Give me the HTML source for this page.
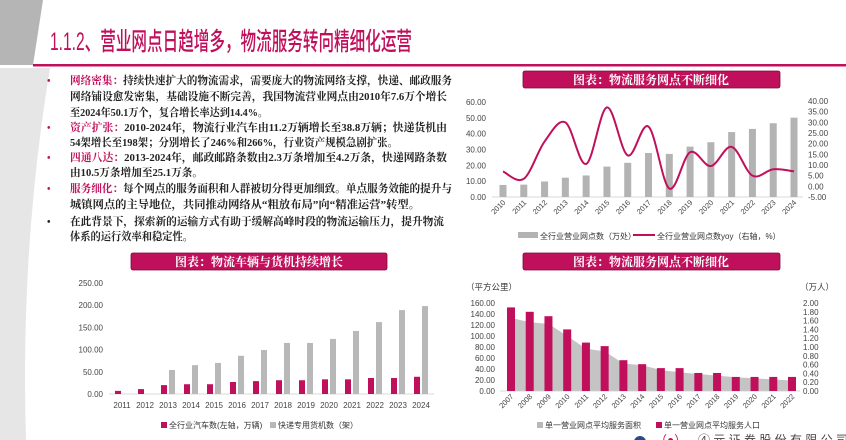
<!DOCTYPE html>
<html><head><meta charset="utf-8">
<style>
html,body{margin:0;padding:0;background:#fff;}
body{width:846px;height:440px;overflow:hidden;position:relative;font-family:"Liberation Sans","Noto Sans CJK SC",sans-serif;}
svg{position:absolute;left:0;top:0;}
</style></head>
<body>
<svg id="page" width="846" height="440" viewBox="0 0 846 440" xmlns="http://www.w3.org/2000/svg">
  <path d="M0,0 L43,0 L33,65 L0,65 Z" fill="#b5b5b5"/>
  <path d="M0,68 L50,68 Q20,250 26,440 L0,440 Z" fill="#e6e6e7"/>
  <text x="50" y="50" font-size="25" fill="#c0105c" textLength="362" lengthAdjust="spacingAndGlyphs" font-family="'Liberation Sans','Noto Sans CJK SC',sans-serif" font-weight="500">1.1.2、营业网点日趋增多，物流服务转向精细化运营</text>
  <rect x="33" y="64" width="813" height="2.5" fill="#c0105c"/>

  <g id="body-text" font-family="'Liberation Serif','Noto Serif CJK SC',serif" font-size="11" font-weight="700" fill="#222"></g>

  <g>
    <rect x="523" y="71" width="257" height="17" rx="2" fill="#c0105c" stroke="#7a0a3a" stroke-width="0.8"/>
    <text x="651" y="84" font-size="12" fill="#fff" text-anchor="middle" font-family="'Liberation Serif','Noto Serif CJK SC',serif" font-weight="700">图表：物流服务网点不断细化</text>
  </g>
  <g>
    <rect x="131" y="253" width="256" height="17" rx="2" fill="#c0105c" stroke="#7a0a3a" stroke-width="0.8"/>
    <text x="259" y="266" font-size="12" fill="#fff" text-anchor="middle" font-family="'Liberation Serif','Noto Serif CJK SC',serif" font-weight="700">图表：物流车辆与货机持续增长</text>
  </g>
  <g>
    <rect x="523" y="253" width="257" height="17" rx="2" fill="#c0105c" stroke="#7a0a3a" stroke-width="0.8"/>
    <text x="651" y="266" font-size="12" fill="#fff" text-anchor="middle" font-family="'Liberation Serif','Noto Serif CJK SC',serif" font-weight="700">图表：物流服务网点不断细化</text>
  </g>

  <g id="chart1"></g>
  <g id="chart2"></g>
  <g id="chart3"></g>

  <g>
    <circle cx="640" cy="442" r="6" fill="#2a4a8a"/>
    <text x="655" y="444" font-size="12" fill="#c0105c">（●）</text>
    <text x="698" y="444" font-size="12" fill="#444">④ 元 证 券 股 份 有 限 公 司</text>
  </g>
</svg>
<script>
const NS='http://www.w3.org/2000/svg';
function mk(parent,tag,attrs,txt){const e=document.createElementNS(NS,tag);for(const k in attrs)e.setAttribute(k,attrs[k]);if(txt!=null)e.textContent=txt;parent.appendChild(e);return e;}

const bodyLines=[
 {b:true,h:'网络密集：',t:'持续快速扩大的物流需求，需要庞大的物流网络支撑，快递、邮政服务',e:452},
 {h:'',t:'网络铺设愈发密集，基础设施不断完善，我国物流营业网点由2010年7.6万个增长',e:447},
 {h:'',t:'至2024年50.1万个，复合增长率达到14.4%。',e:268},
 {b:true,h:'资产扩张：',t:'2010-2024年，物流行业汽车由11.2万辆增长至38.8万辆；快递货机由',e:447},
 {h:'',t:'54架增长至198架；分别增长了246%和266%，行业资产规模急剧扩张。',e:398},
 {b:true,h:'四通八达：',t:'2013-2024年，邮政邮路条数由2.3万条增加至4.2万条，快递网路条数',e:447},
 {h:'',t:'由10.5万条增加至25.1万条。',e:203},
 {b:true,h:'服务细化：',t:'每个网点的服务面积和人群被切分得更加细致。单点服务效能的提升与',e:452},
 {h:'',t:'城镇网点的主导地位，共同推动网络从“粗放布局”向“精准运营”转型。',e:420},
 {b:true,blk:true,h:'',t:'在此背景下，探索新的运输方式有助于缓解高峰时段的物流运输压力，提升物流',e:444},
 {h:'',t:'体系的运行效率和稳定性。',e:193}];
const bodyY=[84,100,116,131,146,161,176,192,208,225,240];
const bt=document.getElementById('body-text');
bodyLines.forEach((l,i)=>{
  const y=bodyY[i];
  if(l.b){const d=mk(bt,'text',{x:47,y:y,fill:l.blk?'#222':'#c0105c','font-size':10},'•');}
  const t=mk(bt,'text',{x:70,y:y,textLength:(l.e-70),lengthAdjust:'spacingAndGlyphs'});
  
  
  if(l.h){mk(t,'tspan',{fill:'#c0105c'},l.h);}
  mk(t,'tspan',{},l.t);
});

function smoothPath(pts){
  let d='M'+pts[0][0]+','+pts[0][1];
  for(let i=0;i<pts.length-1;i++){
    const p0=pts[Math.max(0,i-1)],p1=pts[i],p2=pts[i+1],p3=pts[Math.min(pts.length-1,i+2)];
    const c1=[p1[0]+(p2[0]-p0[0])/6,p1[1]+(p2[1]-p0[1])/6];
    const c2=[p2[0]-(p3[0]-p1[0])/6,p2[1]-(p3[1]-p1[1])/6];
    d+=' C'+c1[0]+','+c1[1]+' '+c2[0]+','+c2[1]+' '+p2[0]+','+p2[1];
  }
  return d;
}

const c1Years=['2010','2011','2012','2013','2014','2015','2016','2017','2018','2019','2020','2021','2022','2023','2024'];
const c1Outlets=[7.6,7.8,9.8,12.2,13.6,19.2,21.6,27.8,27.2,31.8,34.6,41.0,43.0,46.6,50.1];
const c1Yoy=[7.0,3.5,21.0,30.0,10.5,37.0,14.5,28.0,-1.0,16.0,9.5,18.5,5.0,8.0,7.0];
const c1LeftTicks=[0,10,20,30,40,50,60];
const c1RightTicks=[-5,0,5,10,15,20,25,30,35,40];
(function(){
  const g=document.getElementById('chart1');
  const yL=v=>197-(v/60)*95, yR=v=>197-((v+5)/45)*96;
  const x0=503,dx=(794-503)/(c1Years.length-1), xC=i=>x0+i*dx;
  c1LeftTicks.forEach(v=>{const t=mk(g,'text',{x:486,y:yL(v)+3,'font-size':8,fill:'#444','text-anchor':'end'},v.toFixed(2));});
  c1RightTicks.forEach(v=>{const t=mk(g,'text',{x:808,y:yR(v)+3,'font-size':8,fill:'#444'},v.toFixed(2));});
  const ax=mk(g,'line',{x1:492,x2:803,y1:197,y2:197,stroke:'#ccc','stroke-width':0.8});
  c1Outlets.forEach((v,i)=>{const r=mk(g,'rect',{x:xC(i)-3.5,y:yL(v),width:7,height:197-yL(v),fill:'#b3b3b3'});});
  const p=mk(g,'path',{d:smoothPath(c1Yoy.map((v,i)=>[xC(i),yR(v)])),fill:'none',stroke:'#c0105c','stroke-width':2});
  
  c1Years.forEach((y,i)=>{const t=mk(g,'text',{x:xC(i)+3,y:203,'font-size':7.5,fill:'#444','text-anchor':'end',transform:'rotate(-45 '+(xC(i)+3)+' 203)'},y);});
  const l1=mk(g,'rect',{x:518,y:232,width:20,height:6,fill:'#b3b3b3'});
  const t1=mk(g,'text',{x:540,y:239,'font-size':8,fill:'#333'},'全行业营业网点数（万处）');
  const l2=mk(g,'line',{x1:633,x2:655,y1:235,y2:235,stroke:'#c0105c','stroke-width':2});
  const t2=mk(g,'text',{x:657,y:239,'font-size':8,fill:'#333'},'全行业营业网点数yoy（右轴，%）');
})();

const c2Years=['2011','2012','2013','2014','2015','2016','2017','2018','2019','2020','2021','2022','2023','2024'];
const c2Cars=[7,11,20,22,22,27,29,31,31,33,33,36,36,38.8];
const c2Planes=[0,0,54,65,70,86,99,115,115,124,142,162,189,198];
const c2Ticks=[0,50,100,150,200,250];
(function(){
  const g=document.getElementById('chart2');
  const y=v=>394-(v/250)*111;
  const x0=122,dx=(421-122)/(c2Years.length-1), xC=i=>x0+i*dx;
  c2Ticks.forEach(v=>{const t=mk(g,'text',{x:103,y:y(v)+3,'font-size':8,fill:'#444','text-anchor':'end'},v.toFixed(2));});
  const ax=mk(g,'line',{x1:109,x2:434,y1:394,y2:394,stroke:'#ccc','stroke-width':0.8});
  c2Cars.forEach((v,i)=>{const r=mk(g,'rect',{x:xC(i)-7,y:y(v),width:6,height:394-y(v),fill:'#c0105c'});});
  c2Planes.forEach((v,i)=>{const r=mk(g,'rect',{x:xC(i)+1,y:y(v),width:6,height:394-y(v),fill:'#b8b8b8'});});
  c2Years.forEach((yr,i)=>{const t=mk(g,'text',{x:xC(i),y:408,'font-size':8,fill:'#444','text-anchor':'middle'},yr);});
  const s1=mk(g,'rect',{x:161,y:422,width:6,height:6,fill:'#c0105c'});
  const t1=mk(g,'text',{x:169,y:428,'font-size':8,fill:'#333'},'全行业汽车数(左轴，万辆)');
  const s2=mk(g,'rect',{x:270,y:422,width:6,height:6,fill:'#b8b8b8'});
  const t2=mk(g,'text',{x:278,y:428,'font-size':8,fill:'#333'},'快递专用货机数（架）');
})();

const c3Years=['2007','2008','2009','2010','2011','2012','2013','2014','2015','2016','2017','2018','2019','2020','2021','2022'];
const c3Area=[133,125,122,100,77,72,50,47,38,34,31,28,25,23,21,19];
const c3People=[1.9,1.8,1.7,1.4,1.1,1.02,0.7,0.61,0.52,0.52,0.41,0.41,0.32,0.32,0.32,0.32];
const c3LeftTicks=[0,20,40,60,80,100,120,140,160];
const c3RightTicks=[0,0.2,0.4,0.6,0.8,1.0,1.2,1.4,1.6,1.8,2.0];
(function(){
  const g=document.getElementById('chart3');
  const yL=v=>391-(v/160)*88, yR=v=>391-(v/2)*88;
  const x0=511,dx=(792-511)/(c3Years.length-1), xC=i=>x0+i*dx;
  const u1=mk(g,'text',{x:466,y:290,'font-size':8.5,fill:'#333'},'（平方公里）');
  const u2=mk(g,'text',{x:800,y:290,'font-size':8.5,fill:'#333'},'（万人）');
  c3LeftTicks.forEach(v=>{const t=mk(g,'text',{x:495,y:yL(v)+3,'font-size':8,fill:'#444','text-anchor':'end'},v.toFixed(2));});
  c3RightTicks.forEach(v=>{const t=mk(g,'text',{x:803,y:yR(v)+3,'font-size':8,fill:'#444'},v.toFixed(2));});
  const pts=c3Area.map((v,i)=>[xC(i),yL(v)]);
  let d='M'+xC(0)+',391 L'+pts.map(p=>p.join(',')).join(' L')+' L'+xC(c3Area.length-1)+',391 Z';
  const a=mk(g,'path',{d:d,fill:'#c4c4c4'});
  const ax=mk(g,'line',{x1:500,x2:800,y1:391,y2:391,stroke:'#ccc','stroke-width':0.8});
  c3People.forEach((v,i)=>{const r=mk(g,'rect',{x:xC(i)-4,y:yR(v),width:8,height:391-yR(v),fill:'#c0105c'});});
  c3Years.forEach((yr,i)=>{const t=mk(g,'text',{x:xC(i)+3,y:397,'font-size':7.5,fill:'#444','text-anchor':'end',transform:'rotate(-45 '+(xC(i)+3)+' 397)'},yr);});
  const s1=mk(g,'rect',{x:537,y:422,width:6,height:6,fill:'#b8b8b8'});
  const t1=mk(g,'text',{x:545,y:428,'font-size':8,fill:'#333'},'单一营业网点平均服务面积');
  const s2=mk(g,'rect',{x:656,y:422,width:6,height:6,fill:'#c0105c'});
  const t2=mk(g,'text',{x:664,y:428,'font-size':8,fill:'#333'},'单一营业网点平均服务人口');
})();
</script>
</body></html>
